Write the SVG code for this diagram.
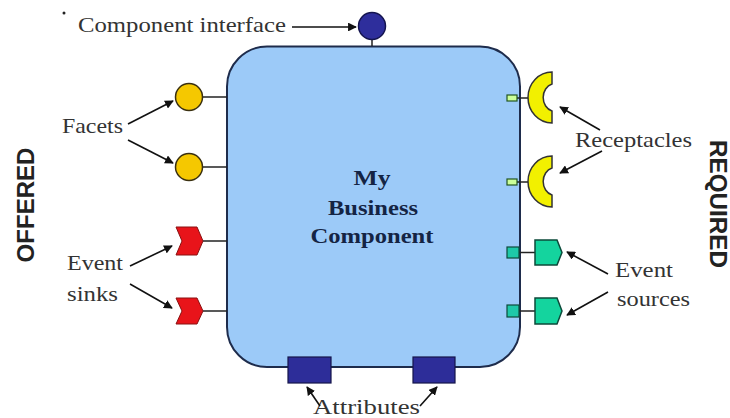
<svg xmlns="http://www.w3.org/2000/svg" width="730" height="418" viewBox="0 0 730 418">
<style>
.lbl{font-family:"Liberation Serif","Times New Roman",serif;font-size:21px;fill:#333}
.side{font-family:"Liberation Sans",Arial,sans-serif;font-size:23px;font-weight:bold;fill:#222}
.title{font-family:"Liberation Serif","Times New Roman",serif;font-size:22px;font-weight:bold;fill:#142444;text-anchor:middle}
.arr{stroke:#111;stroke-width:1.6;fill:none;marker-end:url(#ah)}
.stem{stroke:#222;stroke-width:1.5}
.facet{fill:#f5c800;stroke:#3a3010;stroke-width:1.5}
.sink{fill:#e8141a;stroke:#8a1010;stroke-width:1}
.rec{fill:#f2f000;stroke:#333;stroke-width:1.5}
.recsq{fill:#ccff99;stroke:#225522;stroke-width:1.2}
.src{fill:#14d49e;stroke:#0c4a3a;stroke-width:1.5}
.srcsq{fill:#1ec8a8;stroke:#0c4a3a;stroke-width:1.2}
.attr{fill:#2d2d99;stroke:#15154a;stroke-width:1.2}
</style>
<defs>
<marker id="ah" viewBox="0 0 10 10" refX="9" refY="5" markerWidth="5.5" markerHeight="5.5" orient="auto" markerUnits="strokeWidth">
<path d="M0,0 L10,5 L0,10 Z" fill="#111"/>
</marker>
</defs>
<rect width="730" height="418" fill="#ffffff"/>
<g id="component">
<rect x="227" y="46.5" width="293" height="320.5" rx="40" ry="40" fill="#9ccaf8" stroke="#1e2c4c" stroke-width="2"/>
<text class="title" x="372" y="185" textLength="37" lengthAdjust="spacingAndGlyphs">My</text>
<text class="title" x="373" y="215" textLength="90" lengthAdjust="spacingAndGlyphs">Business</text>
<text class="title" x="372" y="243" textLength="123" lengthAdjust="spacingAndGlyphs">Component</text>
</g>
<g id="component-interface">
<line class="stem" x1="372" y1="39" x2="372" y2="46"/>
<circle cx="372" cy="26" r="13.5" fill="#2e2e9c" stroke="#151550" stroke-width="1.5"/>
</g>
<g id="facets">
<line class="stem" x1="203" y1="97" x2="227" y2="97"/>
<circle class="facet" cx="189" cy="97" r="13.5"/>
<line class="stem" x1="203" y1="167" x2="227" y2="167"/>
<circle class="facet" cx="189" cy="167" r="13.5"/>
</g>
<g id="event-sinks">
<line class="stem" x1="203" y1="241" x2="227" y2="241"/>
<path class="sink" d="M176,227 L197,227 L203,241 L197,255 L176,255 L182,241 Z"/>
<line class="stem" x1="203" y1="311" x2="227" y2="311"/>
<path class="sink" d="M176,298 L197,298 L203,311 L197,324 L176,324 L182,311 Z"/>
</g>
<g id="receptacles">
<line class="stem" x1="517" y1="98" x2="530" y2="98"/>
<rect class="recsq" x="507" y="95" width="10" height="6"/>
<path class="rec" d="M552,72 L552,84 A12,14 0 0 0 552,111 L552,123 A24,25.5 0 0 1 552,72 Z"/>
<line class="stem" x1="517" y1="182" x2="530" y2="182"/>
<rect class="recsq" x="507" y="179" width="10" height="6"/>
<path class="rec" d="M552,156 L552,168 A12,14 0 0 0 552,195 L552,207 A24,25.5 0 0 1 552,156 Z"/>
</g>
<g id="event-sources">
<line class="stem" x1="519" y1="252.5" x2="535" y2="252.5"/>
<rect class="srcsq" x="507" y="247" width="12" height="11"/>
<path class="src" d="M535,240 L557,240 L562,252.5 L557,265 L535,265 Z"/>
<line class="stem" x1="519" y1="311" x2="535" y2="311"/>
<rect class="srcsq" x="507" y="305" width="12" height="12"/>
<path class="src" d="M535,298 L557,298 L562,311 L557,324 L535,324 Z"/>
</g>
<g id="attributes">
<rect class="attr" x="288" y="357" width="43" height="26"/>
<rect class="attr" x="413" y="357" width="42" height="26"/>
</g>
<g id="labels">
<circle cx="64" cy="13" r="1.5" fill="#222"/>
<text class="lbl" x="78" y="32" textLength="208" lengthAdjust="spacingAndGlyphs">Component interface</text>
<text class="lbl" x="62" y="133" textLength="61" lengthAdjust="spacingAndGlyphs">Facets</text>
<text class="lbl" x="67" y="270" textLength="56" lengthAdjust="spacingAndGlyphs">Event</text>
<text class="lbl" x="67" y="301" textLength="51" lengthAdjust="spacingAndGlyphs">sinks</text>
<text class="lbl" x="575" y="147" textLength="117" lengthAdjust="spacingAndGlyphs">Receptacles</text>
<text class="lbl" x="615" y="277" textLength="58" lengthAdjust="spacingAndGlyphs">Event</text>
<text class="lbl" x="617" y="306" textLength="73" lengthAdjust="spacingAndGlyphs">sources</text>
<text class="lbl" x="313" y="414" textLength="107" lengthAdjust="spacingAndGlyphs">Attributes</text>
<text class="side" transform="translate(34,205) rotate(-90)" text-anchor="middle" textLength="115" lengthAdjust="spacingAndGlyphs">OFFERED</text>
<text class="side" transform="translate(710,204) rotate(90)" text-anchor="middle" textLength="128" lengthAdjust="spacingAndGlyphs">REQUIRED</text>
</g>
<g id="connectors">
<line class="arr" x1="292" y1="27" x2="356" y2="27"/>
<line class="arr" x1="128" y1="124" x2="173" y2="101"/>
<line class="arr" x1="128" y1="140" x2="173" y2="163"/>
<line class="arr" x1="130" y1="266" x2="172" y2="246"/>
<line class="arr" x1="130" y1="284" x2="172" y2="308"/>
<line class="arr" x1="600" y1="130" x2="560" y2="107"/>
<line class="arr" x1="602" y1="151" x2="560" y2="173"/>
<line class="arr" x1="608" y1="274" x2="567" y2="252"/>
<line class="arr" x1="608" y1="292" x2="567" y2="315"/>
<line class="arr" x1="320" y1="406" x2="307" y2="387"/>
<line class="arr" x1="420" y1="406" x2="437" y2="387"/>
</g>
</svg>
